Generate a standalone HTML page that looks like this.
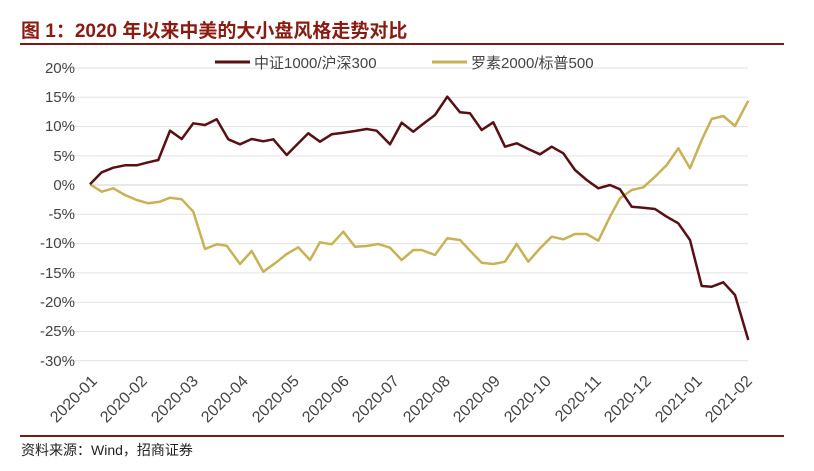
<!DOCTYPE html>
<html><head><meta charset="utf-8"><style>
html,body{margin:0;padding:0;background:#fff;}
svg{display:block;}
text{font-family:"Liberation Sans","Noto Sans CJK SC",sans-serif;}
</style></head><body>
<svg width="814" height="471" viewBox="0 0 814 471" xmlns="http://www.w3.org/2000/svg">
<text x="21" y="37" font-size="19" font-weight="bold" fill="#8b1a10" font-family="'Liberation Sans','Noto Sans CJK SC',sans-serif">图 1：2020 年以来中美的大小盘风格走势对比</text>
<line x1="20" y1="44" x2="784" y2="44" stroke="#7a1a14" stroke-width="2"/>
<g stroke="#e2e2e2" stroke-width="1">
<line x1="58" y1="68" x2="748" y2="68"/><line x1="58" y1="97.3" x2="748" y2="97.3"/><line x1="58" y1="126.6" x2="748" y2="126.6"/><line x1="58" y1="155.9" x2="748" y2="155.9"/><line x1="58" y1="214.3" x2="748" y2="214.3"/><line x1="58" y1="243.6" x2="748" y2="243.6"/><line x1="58" y1="272.9" x2="748" y2="272.9"/><line x1="58" y1="302.2" x2="748" y2="302.2"/><line x1="58" y1="331.5" x2="748" y2="331.5"/><line x1="58" y1="360.8" x2="748" y2="360.8"/>
</g>
<line x1="90" y1="185" x2="748" y2="185" stroke="#d0d0d0"/>
<g font-size="15" fill="#444" text-anchor="end">
<text x="75" y="73">20%</text><text x="75" y="102">15%</text><text x="75" y="131">10%</text><text x="75" y="161">5%</text><text x="75" y="190">0%</text><text x="75" y="219">-5%</text><text x="75" y="248">-10%</text><text x="75" y="278">-15%</text><text x="75" y="307">-20%</text><text x="75" y="336">-25%</text><text x="75" y="366">-30%</text>
</g>
<g font-size="16" fill="#444" text-anchor="end">
<text transform="translate(98,382) rotate(-45)">2020-01</text>
<text transform="translate(148,382) rotate(-45)">2020-02</text>
<text transform="translate(199,382) rotate(-45)">2020-03</text>
<text transform="translate(249,382) rotate(-45)">2020-04</text>
<text transform="translate(300,382) rotate(-45)">2020-05</text>
<text transform="translate(350,382) rotate(-45)">2020-06</text>
<text transform="translate(400,382) rotate(-45)">2020-07</text>
<text transform="translate(451,382) rotate(-45)">2020-08</text>
<text transform="translate(501,382) rotate(-45)">2020-09</text>
<text transform="translate(552,382) rotate(-45)">2020-10</text>
<text transform="translate(602,382) rotate(-45)">2020-11</text>
<text transform="translate(652,382) rotate(-45)">2020-12</text>
<text transform="translate(703,382) rotate(-45)">2021-01</text>
<text transform="translate(753,382) rotate(-45)">2021-02</text>
</g>
<line x1="215" y1="62" x2="250" y2="62" stroke="#5a0f12" stroke-width="3"/>
<text x="254" y="68" font-size="15" fill="#444">中证1000/沪深300</text>
<line x1="432" y1="62" x2="467" y2="62" stroke="#c9b154" stroke-width="3"/>
<text x="471" y="68" font-size="15" fill="#444">罗素2000/标普500</text>
<polyline fill="none" stroke="#c9b154" stroke-width="2.5" stroke-linejoin="round" points="90,184.3 101.7,191.7 113.3,188.3 125,195 136.7,200 148.3,203.3 160,201.7 170,197.7 181.7,199.3 193.3,211.7 205,249 216.7,244.3 226.7,245.7 240,264 251.7,251 263.3,271.7 275,263.3 286.7,254 298.3,247.3 310,260 320,242.3 331.7,244.3 343.3,231.7 355,246.7 366.7,246 378.3,244 390,247.7 401.7,260 413.3,250 421.7,250 435,255 447.3,238.3 460,240 470,250.7 481.7,262.7 493.3,264 505,261.7 516.7,244 528.3,261.7 540,248.3 551.7,236.7 563.3,239.3 575,234 586.7,234 598.3,240.7 610,216.7 620,198.3 631.7,190 643.3,187.3 655,176.7 666.7,165 678.3,148.3 690,168.3 701.7,140 711.7,119 723.3,116 735,126 748.3,100.7"/>
<polyline fill="none" stroke="#5a0f12" stroke-width="2.5" stroke-linejoin="round" points="90,184.3 101.7,172.3 113.3,167.7 125,165.3 136.7,165.3 146.7,162.7 158.3,160 170,130.7 181.7,139 193.3,123.3 205,125 216.7,119.3 228.3,139.3 240,144.3 251.7,139 263.3,141.3 273.3,139.3 286.7,155 298.3,143.3 308.3,133.3 320,141.7 331.7,134.3 343.3,132.7 355,131 366.7,129 376.7,130.7 390,144.3 401.7,122.7 413.3,131.7 421.7,125 435,115 447.3,96.7 460,112.3 470,113.3 481.7,130 493.3,122.3 505,146.7 516.7,143.3 528.3,149 540,154.3 551.7,146.7 563.3,153.3 575,170 586.7,180 598.3,188.3 610,185 620,189.3 631.7,206.7 643.3,207.7 655,209 666.7,216.7 678.3,223.3 690,240 701.7,286 711.7,286.7 723.3,282.3 735,295 748.3,340"/>
<line x1="20" y1="436" x2="784" y2="436" stroke="#7a1a14" stroke-width="2"/>
<text x="21" y="455" font-size="14" fill="#222">资料来源：Wind，招商证券</text>
</svg>
</body></html>
